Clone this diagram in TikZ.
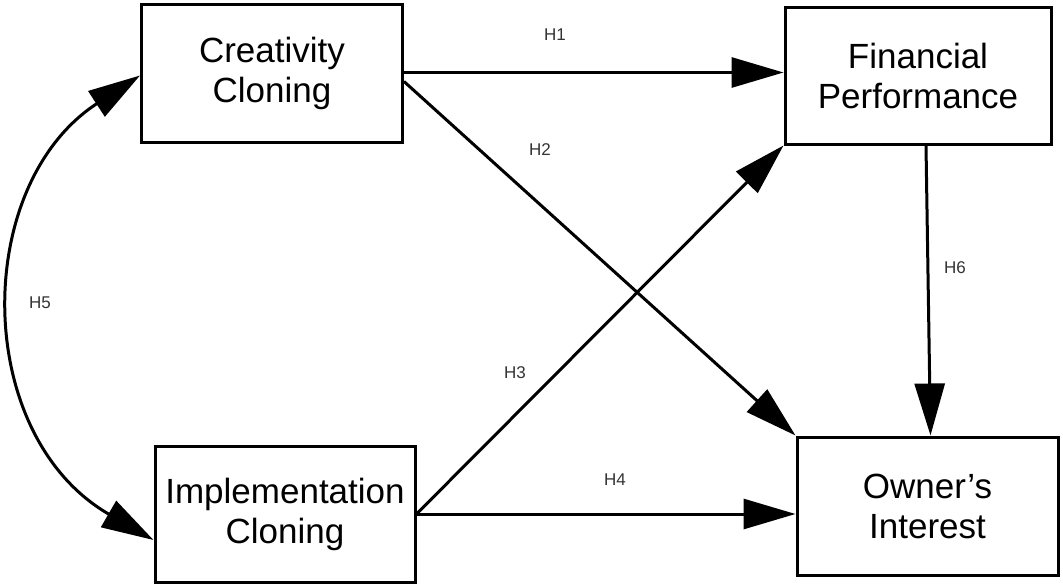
\documentclass[tikz,border=0pt]{standalone}
\usepackage{fontspec}
\setmainfont{Liberation Sans}
\usetikzlibrary{arrows.meta}
\tikzset{
  box/.style={draw, line width=3pt, rectangle, align=center, inner sep=0pt,
    font=\fontsize{35}{40}\selectfont},
  conn/.style={line width=3pt, -{Triangle[length=52pt,width=30pt]}},
  hlab/.style={font=\fontsize{17}{17}\selectfont, text=black!80, inner sep=0pt}
}
\begin{document}
\begin{tikzpicture}[x=1pt,y=-1pt]
\useasboundingbox (0,0) rectangle (1063,586);
\node[box, minimum width=261pt, minimum height=138pt] (cc) at (272,73.5) {Creativity\\Cloning};
\node[box, minimum width=266pt, minimum height=136pt] (fp) at (918,76) {Financial\\Performance};
\node[box, minimum width=260pt, minimum height=136pt] (im) at (285,514) {Implementation\\Cloning};
\node[box, minimum width=261pt, minimum height=138pt] (ow) at (927.5,506) {Owner's\\Interest};

\draw[conn] ([yshift=1pt]cc.east) -- ([yshift=1pt]cc.east -| fp.west);
\draw[conn] ([yshift=-8pt]cc.east) -- (ow.north west);
\draw[conn] (im.east) -- (fp.south west);
\draw[conn] (im.east) -- (im.east -| ow.west);
\draw[conn] ([xshift=8pt]fp.south) -- ([xshift=3pt]ow.north);
\draw[line width=3pt, {Triangle[length=52pt,width=30pt]}-{Triangle[length=52pt,width=30pt]}]
  ([yshift=-2pt]cc.west) .. controls (-28,185) and (-28,435) .. ([yshift=-26pt]im.west);

\node[hlab] (h1) at (555,35) {H1};
\node[hlab] (h2) at (540,150) {H2};
\node[hlab] (h3) at (515,373) {H3};
\node[hlab] (h4) at (615,480) {H4};
\node[hlab] (h5) at (40,303) {H5};
\node[hlab] (h6) at (955,268) {H6};
\end{tikzpicture}
\end{document}
